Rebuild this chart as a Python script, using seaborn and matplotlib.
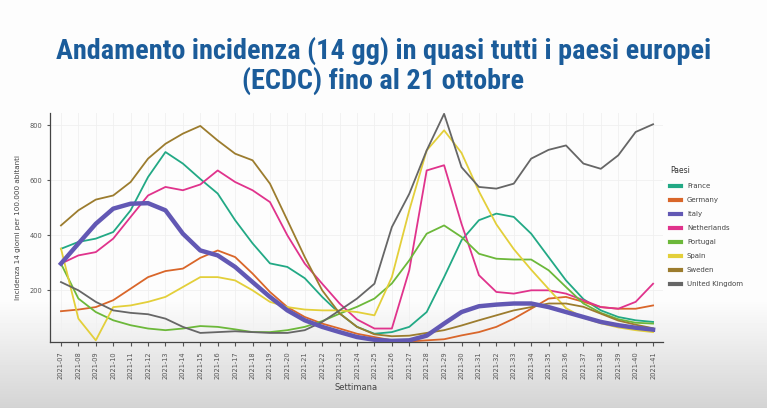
import numpy as np
import pandas as pd
import seaborn as sns
import matplotlib.pyplot as plt
from matplotlib.lines import Line2D

# settimane 2021-07 ... 2021-41
settimane = [f'2021-{w:02d}' for w in range(7, 42)]

paesi = ['France', 'Germany', 'Italy', 'Netherlands', 'Portugal', 'Spain', 'Sweden', 'United Kingdom']

# incidenza a 14 giorni per 100.000 abitanti
france = [351, 376, 388, 412, 491, 612, 703, 661, 605, 552, 455, 371, 298, 285, 244, 176, 116, 67, 42, 48,
          67, 121, 248, 382, 455, 479, 467, 406, 321, 236, 168, 127, 103, 91, 85]
germany = [124, 130, 139, 164, 206, 248, 270, 279, 318, 345, 321, 261, 194, 139, 103, 79, 61, 42, 30, 18,
           14, 18, 22, 36, 48, 67, 97, 133, 170, 176, 158, 139, 133, 133, 145]
italy = [297, 370, 442, 497, 515, 517, 491, 406, 345, 327, 285, 230, 176, 127, 91, 67, 48, 30, 20, 16,
         18, 35, 79, 121, 142, 148, 152, 152, 139, 121, 103, 85, 73, 64, 57]
netherlands = [297, 327, 339, 388, 467, 545, 576, 564, 585, 636, 594, 564, 521, 400, 297, 224, 152, 94, 61, 61,
               273, 636, 655, 442, 255, 194, 188, 200, 200, 188, 164, 139, 133, 158, 224]
portugal = [297, 170, 121, 91, 73, 61, 55, 61, 70, 67, 58, 48, 48, 55, 67, 88, 115, 140, 170, 225,
            309, 406, 436, 394, 333, 315, 312, 312, 273, 212, 152, 118, 95, 82, 79]
spain = [352, 97, 18, 139, 145, 158, 176, 212, 248, 248, 236, 200, 158, 139, 130, 127, 127, 121, 109, 248,
         491, 709, 782, 700, 560, 440, 350, 275, 205, 135, 100, 80, 65, 55, 48]
sweden = [436, 491, 530, 545, 594, 679, 733, 770, 798, 745, 697, 673, 588, 455, 321, 200, 116, 67, 40, 33,
          35, 45, 55, 72, 91, 109, 127, 139, 152, 152, 140, 115, 90, 75, 62]
uk = [230, 200, 158, 127, 118, 113, 97, 67, 45, 48, 51, 48, 45, 45, 55, 85, 127, 170, 224, 430,
      551, 709, 842, 648, 576, 570, 588, 679, 711, 727, 661, 642, 691, 776, 804]

colori = ['#22a985', '#d9662a', '#6258b4', '#e0338c', '#6cb83a', '#e3cf3a', '#9c7c2e', '#666666']

valori = [france, germany, italy, netherlands, portugal, spain, sweden, uk]
df = pd.concat([pd.DataFrame({'Settimana': settimane, 'Incidenza': v, 'Paese': p})
                for p, v in zip(paesi, valori)], ignore_index=True)

fig = plt.figure(figsize=(7.67, 4.08), dpi=100)

# sfondo sfumato (screenshot del video)
bg = fig.add_axes([0, 0, 1, 1], zorder=-10)
grad = np.ones((408, 1))
yy = np.arange(408)
grad[:, 0] = np.where(yy < 300, 0.99, 0.99 - (yy - 300) / 108 * 0.16)
bg.imshow(grad, cmap='gray', vmin=0, vmax=1, aspect='auto', extent=[0, 1, 0, 1])
bg.axis('off')

ax = fig.add_axes([50 / 767, 1 - 342 / 408, 613 / 767, 229 / 408])
ax.set_facecolor('none')

sns.lineplot(data=df, x='Settimana', y='Incidenza', hue='Paese', palette=colori,
             linewidth=1.3, legend=False, ax=ax, sort=False)
for line, p in zip(ax.lines, paesi):
    if p == 'Italy':
        line.set_linewidth(3.2)
        line.set_zorder(3)

ax.set_xlim(-0.63, 34.57)
ax.set_ylim(12, 845)
ax.set_yticks([200, 400, 600, 800])
ax.set_xticks(range(len(settimane)))
ax.set_xticklabels(settimane, rotation=90, fontsize=4.8, color='#555555')
ax.tick_params(axis='y', labelsize=4.8, colors='#555555', length=2)
ax.tick_params(axis='x', length=3, colors='#555555')
ax.grid(True, color='#f0f0f0', linewidth=0.6)
for s in ['top', 'right']:
    ax.spines[s].set_visible(False)
for s in ['left', 'bottom']:
    ax.spines[s].set_color('#444444')
    ax.spines[s].set_linewidth(0.9)

ax.set_xlabel('Settimana', fontsize=6, color='#444444', labelpad=3)
ax.set_ylabel('Incidenza 14 giorni per 100.000 abitanti', fontsize=5.2, color='#444444', labelpad=6)

handles = [Line2D([0], [0], color=c, lw=3) for c in colori]
leg = fig.legend(handles, paesi, title='Paesi', loc='upper left',
                 bbox_to_anchor=(664 / 767, 1 - 160 / 408), frameon=False,
                 fontsize=5, title_fontsize=5.5, handlelength=1.6, labelspacing=1.15,
                 alignment='left')
for t in leg.get_texts():
    t.set_color('#444444')
leg.get_title().set_color('#333333')

titolo = dict(ha='center', va='center', fontsize=20.3, fontweight='bold', color='#1b5c9a',
              family=['Roboto Condensed', 'Liberation Sans Narrow', 'Liberation Sans'])
fig.text(0.5, 1 - 51 / 408, 'Andamento incidenza (14 gg) in quasi tutti i paesi europei', **titolo)
fig.text(0.5, 1 - 81 / 408, '(ECDC) fino al 21 ottobre', **titolo)

fig.savefig('out.png', dpi=100)
